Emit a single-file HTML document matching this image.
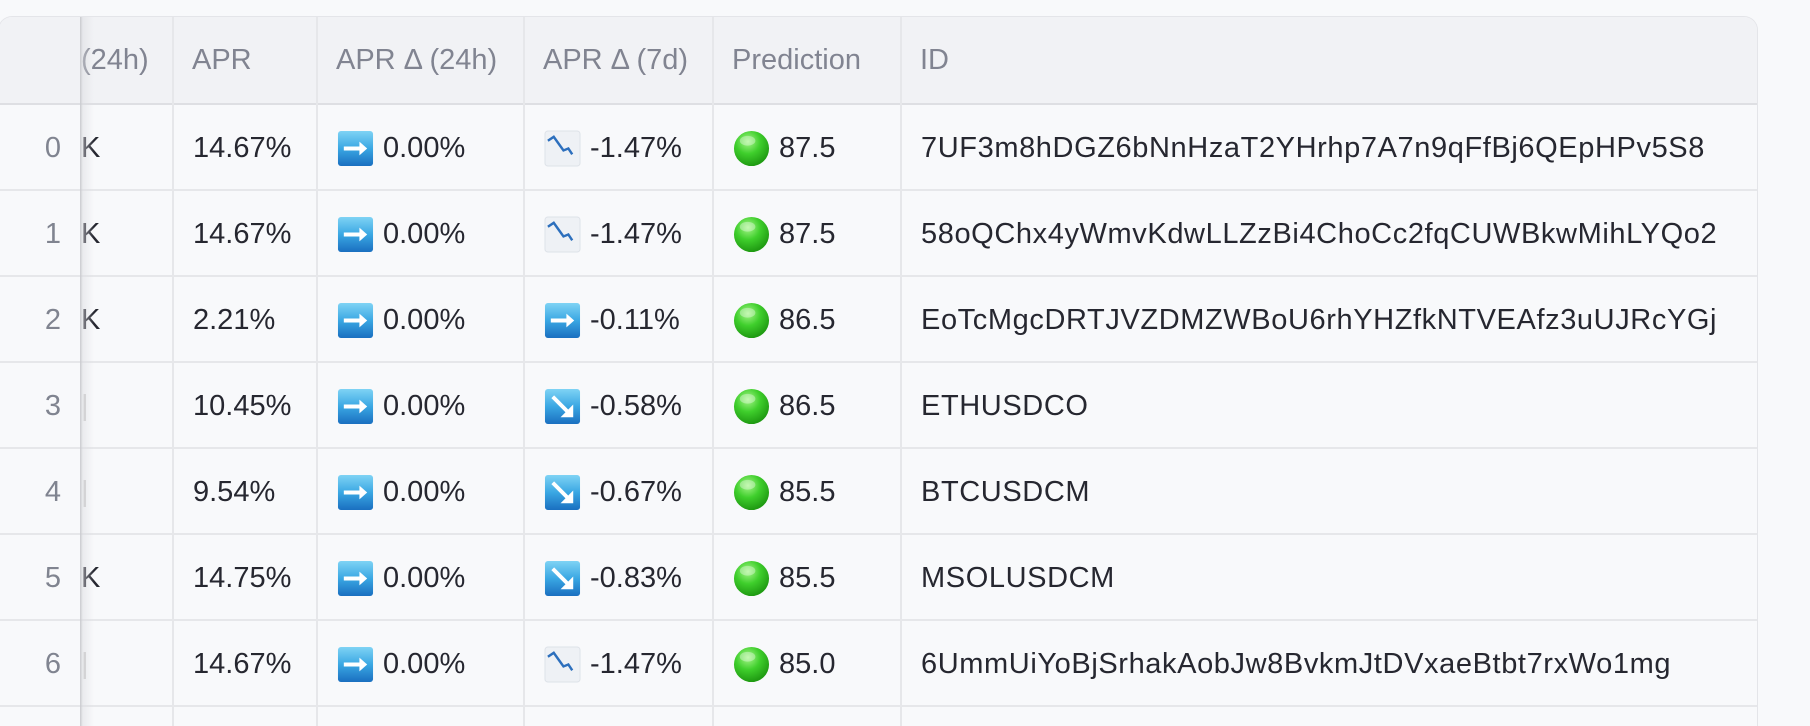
<!DOCTYPE html>
<html><head><meta charset="utf-8">
<style>
html,body{margin:0;width:1810px;height:725px;background:#f8f9fb;overflow:hidden;font-family:"Liberation Sans",sans-serif;}
#tbl{position:absolute;left:-2px;top:16px;width:1758px;height:709px;border:1.5px solid #e4e5e9;border-bottom:none;border-radius:14px 14px 0 0;overflow:hidden;background:#f8f9fb;}
.hdr{position:absolute;left:0;top:0;width:100%;height:86px;background:#f1f2f5;border-bottom:2px solid #dedfe3;}
.cell{position:absolute;height:86px;display:flex;align-items:center;font-size:29px;color:#262730;white-space:nowrap;overflow:hidden;box-sizing:border-box;}
.hcell{color:#818491;}
.vline{position:absolute;top:0;width:2px;height:709px;background:#e6e7ea;}
.hline{position:absolute;left:0;width:100%;height:2px;background:#e6e7ea;}
.emo{display:inline-block;width:37px;height:37px;margin-right:9px;flex:none;}
.idx{color:#808490;justify-content:flex-end;}
</style></head><body>
<div id="tbl">
<div class="hdr"></div>
</div>
<svg width="0" height="0" style="position:absolute">
<defs>
<linearGradient id="blu" x1="0" y1="0" x2="0" y2="1"><stop offset="0" stop-color="#7fd3f5"/><stop offset="0.5" stop-color="#3aa7e3"/><stop offset="1" stop-color="#1a6fc0"/></linearGradient>
<radialGradient id="grn" cx="0.4" cy="0.3" r="0.7"><stop offset="0" stop-color="#a6f58a"/><stop offset="0.5" stop-color="#3fcf2c"/><stop offset="1" stop-color="#1f9a12"/></radialGradient>
</defs></svg>
<script>
const idx=[0,1,2,3,4,5,6];
const firstCol=["K","K","K","","","K",""];
const apr=["14.67%","14.67%","2.21%","10.45%","9.54%","14.75%","14.67%"];
const d24=["0.00%","0.00%","0.00%","0.00%","0.00%","0.00%","0.00%"];
const d7=["-1.47%","-1.47%","-0.11%","-0.58%","-0.67%","-0.83%","-1.47%"];
const d7icon=["chart","chart","right","down","down","down","chart"];
const pred=["87.5","87.5","86.5","86.5","85.5","85.5","85.0"];
const ids=["7UF3m8hDGZ6bNnHzaT2YHrhp7A7n9qFfBj6QEpHPv5S8","58oQChx4yWmvKdwLLZzBi4ChoCc2fqCUWBkwMihLYQo2","EoTcMgcDRTJVZDMZWBoU6rhYHZfkNTVEAfz3uUJRcYGj","ETHUSDCO","BTCUSDCM","MSOLUSDCM","6UmmUiYoBjSrhakAobJw8BvkmJtDVxaeBtbt7rxWo1mg"];
const headers=["(24h)","APR","APR Δ (24h)","APR Δ (7d)","Prediction","ID"];
const colX=[82,174,318,525,714,902];
const colW=[92,144,207,189,188,856];
const tbl=document.getElementById('tbl');
function icon(kind){
 const s='<svg class="emo" viewBox="0 0 38 38">';
 if(kind==='right')return s+'<rect x="1" y="1" width="36" height="36" rx="3" fill="url(#blu)"/><path d="M7 19h19" stroke="#fff" stroke-width="4"/><path d="M23 12l8 7-8 7z" fill="#fff"/></svg>';
 if(kind==='down')return s+'<rect x="1" y="1" width="36" height="36" rx="3" fill="url(#blu)"/><path d="M9 9l17 17" stroke="#fff" stroke-width="4"/><path d="M30 17v13h-13z" fill="#fff"/></svg>';
 if(kind==='chart')return s+'<rect x="1" y="1" width="36" height="36" rx="3" fill="#eef1f5" stroke="#dde2e8"/><path d="M4 11l6-4 5 7 5 7 5-2 4 6" fill="none" stroke="#2c6fbd" stroke-width="2.5"/></svg>';
 return s+'<circle cx="19" cy="19" r="18" fill="url(#grn)"/><ellipse cx="15" cy="11" rx="8" ry="5" fill="#fff" opacity="0.35"/></svg>';
}
function mk(cls,x,y,w,html,name,pad){
 const d=document.createElement('div');
 d.className=cls;d.style.left=x+'px';d.style.top=y+'px';d.style.width=w+'px';
 d.style.paddingLeft=(pad===undefined?20:pad)+'px';
 d.innerHTML=html;
 
 
 tbl.appendChild(d);return d;
}
headers.forEach((h,i)=>{
 const c=mk('cell hcell',colX[i],0,colW[i],h,'header-cell',i===0?0:19);
 
 
});
idx.forEach((r,i)=>{
 const y=88+86*i;
 const ic=mk('cell idx',0,y,62,String(r),'row-index',0);
 
 mk('cell',colX[0],y,colW[0],firstCol[i]||'<span style="color:#ccc">|</span>','clipped-cell',0);
 mk('cell',colX[1],y,colW[1],apr[i],'apr-cell');
 mk('cell',colX[2],y,colW[2],icon('right')+d24[i],'apr-delta-24h-cell');
 mk('cell',colX[3],y,colW[3],icon(d7icon[i])+d7[i],'apr-delta-7d-cell');
 mk('cell',colX[4],y,colW[4],icon('dot')+pred[i],'prediction-cell');
 const idc=mk('cell',colX[5],y,colW[5],ids[i],'id-cell');
 idc.style.letterSpacing='0.6px';
});
for(let i=1;i<=7;i++){
 const l=document.createElement('div');l.className='hline';l.style.top=(86+86*i)+'px';
 
 
 tbl.appendChild(l);
}
[174,318,525,714,902].forEach(x=>{
 const v=document.createElement('div');v.className='vline';v.style.left=(x-1)+'px';
 
 
 tbl.appendChild(v);
});
const sh=document.createElement('div');
sh.style.cssText='position:absolute;left:81px;top:0;width:14px;height:709px;background:linear-gradient(to right,#c9cace,rgba(220,221,225,0.5) 20%,rgba(248,249,251,0));';


tbl.appendChild(sh);
</script>
</body></html>
